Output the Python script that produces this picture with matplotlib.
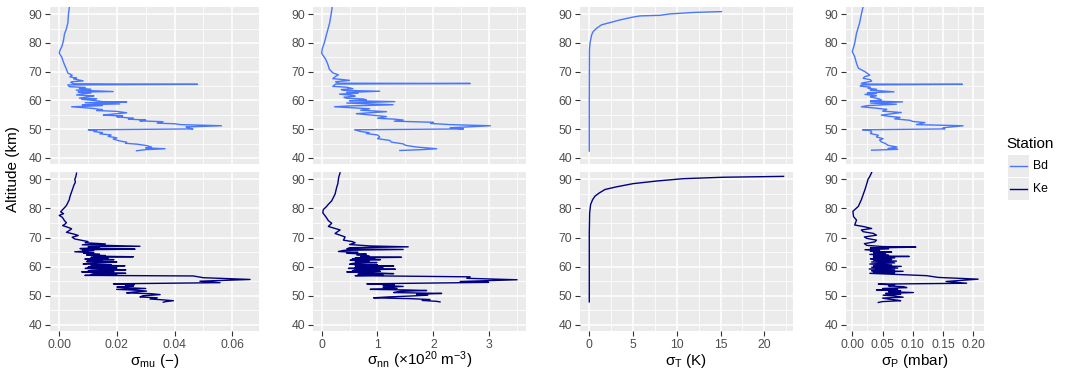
import matplotlib.pyplot as plt
from matplotlib.lines import Line2D
from matplotlib.patches import Rectangle
import numpy as np

plt.rcParams['font.family'] = ['Liberation Sans', 'DejaVu Sans']
plt.rcParams['mathtext.fontset'] = 'custom'
plt.rcParams['mathtext.rm'] = 'Liberation Sans'
plt.rcParams['mathtext.it'] = 'Liberation Sans:italic'

stations = ['Bd', 'Ke']
station_colors = {'Bd': '#4876FF', 'Ke': '#000080'}

# ---- profiles: (altitude km, sigma), top to bottom ----
bd_mu = [(92.3, .0035), (90.0, .0032), (87.0, .0030), (85.0, .0025), (83.0, .0018), (81.0, .0015),
         (79.0, .0010), (77.5, .0003), (76.5, .0000), (75.0, .0009), (73.5, .0014), (72.0, .0020),
         (70.6, .0026), (69.5, .0030), (68.8, .0045), (68.2, .0037), (67.8, .0060), (67.5, .0050),
         (66.8, .0083), (66.5, .0045), (66.3, .0040), (65.8, .0050), (65.6, .0480), (65.4, .0030),
         (64.8, .0035), (64.5, .0090), (64.2, .0070), (63.9, .0110), (63.6, .0059), (63.1, .0187),
         (62.9, .0065), (62.6, .0110), (62.3, .0080), (61.9, .0060), (61.6, .0120), (61.3, .0100),
         (60.8, .0070), (60.6, .0130), (60.4, .0078), (60.0, .0120), (59.6, .0150), (59.5, .0234),
         (59.2, .0090), (58.8, .0210), (58.5, .0080), (58.2, .0150), (57.8, .0043), (57.3, .0110),
         (56.8, .0150), (56.5, .0130), (56.2, .0200), (55.7, .0234), (55.2, .0180), (54.9, .0153),
         (54.6, .0220), (54.3, .0200), (53.8, .0257), (53.5, .0240), (53.2, .0300), (52.9, .0280),
         (52.6, .0360), (52.1, .0340), (51.9, .0400), (51.6, .0420), (51.2, .0563), (50.8, .0440),
         (50.4, .0450), (50.1, .0464), (49.8, .0101), (49.5, .0130), (49.2, .0120), (48.8, .0150),
         (48.4, .0141), (48.0, .0180), (47.5, .0170), (47.0, .0200), (46.6, .0187), (45.9, .0210),
         (45.5, .0234), (45.1, .0230), (44.8, .0270), (44.3, .0303), (43.8, .0320), (43.5, .0300),
         (43.2, .0367), (42.9, .0300), (42.5, .0268)]

ke_mu = [(92.1, .0060), (91.0, .0058), (90.0, .0054), (89.0, .0056), (88.0, .0051), (86.8, .0047),
         (85.7, .0043), (84.0, .0037), (83.0, .0035), (82.2, .0031), (81.0, .0025), (80.0, .0016),
         (79.4, .0010), (78.8, .0005), (78.2, .0015), (77.6, .0000), (77.0, .0010), (76.5, .0014),
         (75.8, .0018), (75.1, .0025), (74.6, .0020), (74.1, .0012), (73.5, .0030), (73.0, .0043),
         (72.4, .0035), (71.8, .0025), (71.2, .0050), (70.7, .0066), (70.1, .0045), (69.5, .0054),
         (69.0, .0080), (68.6, .0100), (68.2, .0090), (67.8, .0160), (67.5, .0080), (67.0, .0280),
         (66.8, .0100), (66.5, .0140), (66.2, .0072), (66.0, .0263), (65.8, .0080), (65.5, .0120),
         (65.1, .0054), (64.8, .0120), (64.6, .0085), (64.3, .0140), (64.0, .0095), (63.8, .0160),
         (63.6, .0120), (63.4, .0257), (63.2, .0110), (62.9, .0170), (62.6, .0089), (62.4, .0190),
         (62.2, .0100), (62.0, .0150), (61.8, .0095), (61.6, .0200), (61.4, .0164), (61.2, .0100),
         (60.9, .0083), (60.7, .0180), (60.5, .0110), (60.3, .0228), (60.1, .0120), (59.8, .0100),
         (59.6, .0200), (59.4, .0090), (59.1, .0170), (58.9, .0231), (58.7, .0110), (58.5, .0100),
         (58.3, .0190), (58.2, .0078), (57.9, .0150), (57.7, .0231), (57.5, .0120), (57.3, .0110),
         (57.1, .0200), (57.0, .0089), (56.8, .0465), (56.2, .0500), (55.6, .0662), (55.0, .0488),
         (54.5, .0558), (54.1, .0188), (53.8, .0260), (53.6, .0230), (53.3, .0257), (53.0, .0200),
         (52.8, .0220), (52.5, .0300), (52.2, .0199), (51.9, .0270), (51.6, .0303), (51.3, .0260),
         (51.0, .0234), (50.7, .0320), (50.4, .0350), (50.0, .0290), (49.6, .0280), (49.3, .0340),
         (48.9, .0315), (48.6, .0360), (48.3, .0396), (48.0, .0370), (47.8, .0361)]

bd_nn = [(92.6, 0.19), (90.0, 0.17), (86.7, 0.14), (83.2, 0.09), (80.2, 0.05), (77.9, 0.01),
         (76.4, 0.00), (74.4, 0.07), (72.6, 0.11), (70.8, 0.14), (69.6, 0.20), (68.9, 0.30),
         (68.5, 0.26), (67.6, 0.20), (67.0, 0.50), (66.5, 0.25), (66.0, 0.30), (65.9, 2.66),
         (65.7, 0.25), (64.9, 0.20), (64.6, 0.45), (64.1, 0.56), (63.8, 0.35), (63.5, 0.40),
         (63.2, 1.04), (62.8, 0.45), (62.5, 0.65), (62.2, 0.32), (61.8, 0.55), (61.5, 0.60),
         (61.1, 0.40), (60.8, 0.44), (60.5, 0.75), (60.2, 0.80), (59.9, 0.50), (59.6, 1.31),
         (59.1, 0.45), (58.5, 1.28), (58.1, 0.50), (57.8, 0.23), (57.4, 0.60), (57.1, 0.86),
         (56.6, 0.70), (56.1, 1.16), (55.4, 0.62), (54.9, 0.90), (54.4, 1.16), (53.8, 1.00),
         (53.5, 1.30), (53.2, 1.46), (52.8, 1.30), (52.4, 2.00), (52.0, 1.95), (51.6, 2.30),
         (51.2, 3.02), (50.5, 2.30), (50.1, 2.54), (49.8, 0.59), (49.2, 0.70), (48.8, 0.85),
         (48.5, 0.80), (48.0, 1.00), (47.3, 1.04), (46.7, 1.00), (46.1, 1.22), (45.5, 1.25),
         (44.9, 1.46), (44.4, 1.50), (43.8, 1.70), (43.2, 2.06), (42.9, 1.80), (42.6, 1.40)]

ke_nn = [(92.2, 0.33), (91.0, 0.31), (90.0, 0.30), (88.5, 0.29), (87.3, 0.27), (84.9, 0.24),
         (82.6, 0.18), (81.4, 0.12), (80.5, 0.08), (79.6, 0.03), (78.5, 0.02), (77.5, 0.06),
         (76.7, 0.09), (75.8, 0.12), (74.9, 0.18), (73.8, 0.12), (72.6, 0.33), (71.4, 0.24),
         (70.2, 0.42), (69.1, 0.39), (68.6, 0.55), (68.2, 0.60), (67.6, 0.50), (67.1, 0.87),
         (66.8, 1.55), (66.5, 0.50), (66.1, 0.45), (65.9, 1.46), (65.6, 0.40), (65.2, 0.30),
         (64.9, 0.65), (64.6, 0.45), (64.3, 0.80), (64.0, 0.63), (63.7, 0.85), (63.4, 0.70),
         (63.2, 1.43), (63.0, 0.60), (62.8, 0.95), (62.6, 0.55), (62.4, 1.05), (62.2, 0.51),
         (61.9, 0.85), (61.6, 0.60), (61.4, 0.99), (61.1, 0.55), (60.8, 0.50), (60.6, 1.00),
         (60.4, 0.60), (60.2, 1.29), (60.0, 0.65), (59.8, 0.60), (59.6, 1.10), (59.4, 0.48),
         (59.1, 1.32), (58.9, 0.60), (58.6, 0.55), (58.4, 1.05), (58.2, 0.45), (57.9, 0.90),
         (57.6, 1.29), (57.4, 0.65), (57.1, 1.10), (56.9, 0.60), (56.5, 2.66), (56.0, 2.60),
         (55.5, 3.50), (54.9, 2.48), (54.6, 2.99), (54.1, 0.81), (53.8, 1.30), (53.5, 1.10),
         (53.2, 1.46), (52.9, 1.10), (52.5, 1.35), (52.2, 0.87), (52.0, 1.50), (51.8, 1.88),
         (51.5, 1.40), (51.1, 1.29), (50.8, 2.15), (50.5, 1.70), (50.2, 1.90), (49.9, 1.58),
         (49.6, 1.20), (49.3, 0.93), (49.0, 1.60), (48.7, 1.94), (48.4, 1.80), (48.1, 2.05),
         (47.9, 2.12)]

bd_t = [(42.4, 0.0), (60.1, 0.0), (77.6, 0.02), (79.9, 0.08), (82.8, 0.27), (84.0, 0.46), (85.1, 0.84),
        (86.3, 1.4), (87.1, 2.4), (88.0, 3.5), (89.0, 5.0), (89.4, 5.8), (89.6, 8.1), (90.1, 9.2),
        (90.6, 11.9), (90.9, 15.1)]

ke_t = [(47.9, 0.0), (71.4, 0.0), (78.4, 0.04), (81.3, 0.15), (83.0, 0.38), (84.2, 0.65), (85.3, 1.14),
        (86.5, 1.8), (87.4, 3.1), (88.5, 5.0), (89.4, 7.7), (90.2, 10.7), (90.7, 15.3), (91.0, 22.2)]

bd_p = [(92.7, .018), (90.0, .015), (86.9, .012), (83.4, .007), (79.9, .004), (77.0, .000),
        (75.2, .004), (72.9, .007), (71.2, .010), (70.0, .021), (69.4, .025), (68.8, .029),
        (68.2, .020), (67.7, .018), (67.2, .030), (66.7, .032), (66.0, .015), (65.7, .025),
        (65.6, .182), (65.4, .015), (65.0, .013), (64.6, .030), (64.2, .026), (63.9, .040),
        (63.6, .030), (63.0, .069), (62.7, .025), (62.4, .040), (62.1, .021), (61.6, .040),
        (61.3, .030), (61.0, .035), (60.5, .045), (60.1, .048), (59.8, .030), (59.5, .083),
        (59.1, .030), (58.7, .073), (58.2, .025), (57.8, .015), (57.3, .040), (56.9, .057),
        (56.3, .050), (55.8, .081), (54.9, .048), (54.5, .060), (54.1, .079), (53.6, .070),
        (53.1, .095), (52.7, .100), (52.3, .120), (51.6, .106), (51.2, .183), (50.5, .150),
        (50.1, .153), (49.8, .017), (49.5, .030), (49.1, .032), (48.5, .030), (47.9, .043),
        (47.3, .040), (46.7, .051), (46.2, .045), (45.6, .048), (45.0, .055), (44.4, .059),
        (43.8, .074), (43.3, .059), (43.0, .075), (42.7, .032)]

ke_p = [(92.3, .032), (91.0, .029), (90.0, .026), (88.5, .024), (86.5, .021), (83.0, .015),
        (80.7, .010), (79.0, .001), (77.2, .002), (76.0, .007), (74.3, .004), (73.7, .020),
        (73.1, .032), (72.6, .015), (72.0, .018), (71.4, .035), (70.8, .040), (70.2, .020),
        (69.7, .024), (69.1, .040), (68.5, .037), (67.9, .020), (67.3, .024), (66.9, .050),
        (66.7, .105), (66.4, .030), (66.1, .060), (65.8, .021), (65.5, .045), (65.3, .030),
        (65.0, .065), (64.8, .035), (64.5, .055), (64.2, .029), (63.9, .060), (63.7, .035),
        (63.5, .094), (63.3, .035), (63.0, .070), (62.7, .030), (62.5, .065), (62.2, .035),
        (61.9, .073), (61.6, .032), (61.3, .070), (60.9, .029), (60.6, .065), (60.3, .035),
        (60.1, .081), (59.8, .032), (59.5, .075), (59.2, .028), (58.9, .070), (58.6, .032),
        (58.4, .084), (58.1, .035), (57.9, .070), (57.7, .029), (56.9, .123), (56.3, .142),
        (55.7, .208), (54.9, .155), (54.3, .189), (54.0, .043), (53.7, .070), (53.4, .060),
        (53.1, .085), (52.8, .090), (52.5, .050), (52.2, .075), (52.0, .040), (51.7, .080),
        (51.4, .060), (51.1, .101), (50.8, .055), (50.5, .080), (50.2, .051), (49.9, .070),
        (49.5, .084), (49.2, .050), (48.8, .062), (48.5, .075), (48.3, .080), (48.0, .050),
        (47.7, .043)]

# ---- layout in pixels ----
W, H = 1067, 378
fig = plt.figure(figsize=(W / 100, H / 100), dpi=100)


def px_axes(x0, y0, x1, y1):
    return fig.add_axes([x0 / W, 1 - y1 / H, (x1 - x0) / W, (y1 - y0) / H])


columns = [
    dict(x=(50, 259), xlim=(-0.0032, 0.0693), major=[0, 0.02, 0.04, 0.06], minor=[0.01, 0.03, 0.05],
         fmt='{:.2f}', label='σ$_{\\rm mu}$ (−)', data={'Bd': bd_mu, 'Ke': ke_mu}),
    dict(x=(313, 526), xlim=(-0.155, 3.66), major=[0, 1, 2, 3], minor=[0.5, 1.5, 2.5, 3.5],
         fmt='{:.0f}', label='σ$_{\\rm nn}$ (×10$^{20}$ m$^{-3}$)', data={'Bd': bd_nn, 'Ke': ke_nn}),
    dict(x=(580, 793), xlim=(-1.06, 23.28), major=[0, 5, 10, 15, 20], minor=[2.5, 7.5, 12.5, 17.5, 22.5],
         fmt='{:.0f}', label='σ$_{\\rm T}$ (K)', data={'Bd': bd_t, 'Ke': ke_t}),
    dict(x=(846, 984), xlim=(-0.0104, 0.2177), major=[0, 0.05, 0.10, 0.15, 0.20],
         minor=[0.025, 0.075, 0.125, 0.175], fmt='{:.2f}', label='σ$_{\\rm P}$ (mbar)',
         data={'Bd': bd_p, 'Ke': ke_p}),
]
rows = {'Bd': (7, 164), 'Ke': (172, 331)}
y_major = [40, 50, 60, 70, 80, 90]
y_minor = [45, 55, 65, 75, 85]

for col in columns:
    for st in stations:
        y0, y1 = rows[st]
        ax = px_axes(col['x'][0], y0, col['x'][1], y1)
        ax.set_facecolor('#EBEBEB')
        for s in ax.spines.values():
            s.set_visible(False)
        ax.set_xlim(*col['xlim'])
        ax.set_ylim(37.9, 92.5)
        ax.set_xticks(col['major'])
        ax.set_xticks(col['minor'], minor=True)
        ax.set_yticks(y_major)
        ax.set_yticks(y_minor, minor=True)
        ax.grid(which='major', color='white', lw=1.1)
        ax.grid(which='minor', color='white', lw=0.55)
        ax.set_axisbelow(True)
        ax.tick_params(which='minor', length=0)
        ax.tick_params(which='major', length=3.5, width=0.8, color='#333333',
                       labelcolor='#4D4D4D', labelsize=8.8, pad=2)
        ax.set_yticklabels([str(v) for v in y_major])
        if st == 'Bd':
            ax.tick_params(axis='x', which='major', length=0, labelbottom=False)
        else:
            ax.set_xticklabels([col['fmt'].format(v) for v in col['major']])
        alt, val = np.array(col['data'][st]).T
        ax.plot(val, alt, color=station_colors[st], lw=1.0)
    cx = (col['x'][0] + col['x'][1]) / 2 / W
    fig.text(cx, 1 - 365 / H, col['label'], ha='center', va='baseline', fontsize=11)

fig.text(13 / W, 1 - 169 / H, 'Altitude (km)', rotation=90, ha='center', va='center', fontsize=11)

# legend
fig.text(1006 / W, 1 - 144 / H, 'Station', ha='left', va='center', fontsize=11)
for i, st in enumerate(stations):
    top = 155 + i * 23
    fig.patches.append(Rectangle((1008 / W, 1 - (top + 22) / H), 21 / W, 22 / H,
                                 transform=fig.transFigure, facecolor='#EBEBEB', edgecolor='none'))
    yc = 1 - (top + 11) / H
    fig.lines.append(Line2D([1010 / W, 1027 / W], [yc, yc], transform=fig.transFigure,
                            color=station_colors[st], lw=1.0))
    fig.text(1033 / W, yc, st, ha='left', va='center', fontsize=8.8)

fig.savefig('out.png', dpi=100)
